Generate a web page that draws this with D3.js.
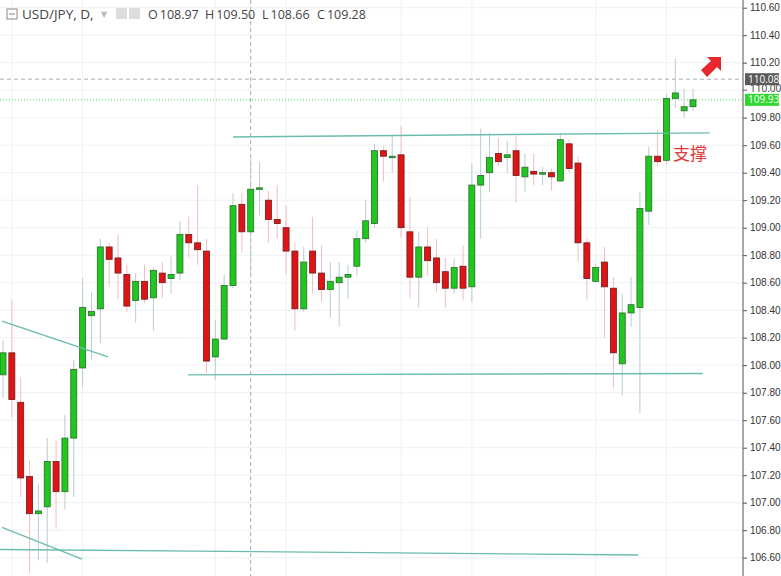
<!DOCTYPE html>
<html>
<head>
<meta charset="utf-8">
<script src="https://cdn.jsdelivr.net/npm/d3@7"></script>
<style>
body { margin: 0; background: #fff; }
svg { display: block; font-family: "Open Sans", "DejaVu Sans", sans-serif; }
</style>
</head>
<body>
<div id="chart"></div>
<script>
// daily candles, open / high / low / close
const opens  = [107.93,108.09,107.73,107.19,106.92,106.97,107.30,107.08,107.47,107.98,108.36,108.41,108.86,108.78,108.66,108.47,108.61,108.49,108.67,108.63,108.67,108.95,108.89,108.83,108.06,108.19,108.58,109.17,108.97,109.28,109.20,109.06,109.00,108.83,108.41,108.83,108.67,108.55,108.60,108.64,108.72,108.92,109.03,109.56,109.51,109.53,108.97,108.64,108.86,108.78,108.68,108.56,108.72,108.57,109.31,109.40,109.54,109.51,109.56,109.37,109.41,109.40,109.40,109.34,109.61,109.47,108.89,108.61,108.75,108.56,108.01,108.38,108.42,109.12,109.52,109.49,109.94,109.85,109.88];
const highs  = [108.18,108.47,107.91,107.31,107.14,107.47,107.45,107.64,108.04,108.63,108.53,108.92,108.89,108.95,108.73,108.67,108.73,108.71,108.75,108.79,109.05,109.08,109.31,108.92,108.33,108.66,109.25,109.25,109.50,109.48,109.27,109.31,109.16,108.89,108.86,109.08,108.87,108.75,108.75,108.73,108.98,109.20,109.61,109.59,109.67,109.74,109.22,108.97,109.00,108.92,108.78,108.78,108.87,109.47,109.72,109.69,109.65,109.63,109.67,109.54,109.54,109.44,109.43,109.69,109.64,109.52,108.92,108.74,108.86,108.64,108.52,108.64,109.26,109.59,109.71,109.97,110.23,110.01,110.01];
const lows   = [107.76,107.62,107.04,106.49,106.58,106.56,106.81,106.95,107.04,107.84,108.04,108.16,108.57,108.48,108.39,108.31,108.45,108.25,108.49,108.52,108.62,108.78,108.73,107.94,107.89,108.18,108.56,108.82,108.66,109.09,108.89,108.92,108.66,108.25,108.39,108.52,108.46,108.35,108.28,108.48,108.65,108.89,109.00,109.34,109.40,108.93,108.49,108.42,108.65,108.53,108.42,108.52,108.47,108.46,108.92,109.26,109.45,109.40,109.18,109.26,109.31,109.31,109.27,109.33,109.40,108.75,108.47,108.60,108.20,107.83,107.78,108.28,107.65,109.02,109.45,109.46,109.87,109.80,109.85];
const closes = [108.09,107.75,107.18,106.92,106.94,107.30,107.08,107.47,107.97,108.42,108.39,108.86,108.77,108.67,108.43,108.61,108.48,108.69,108.60,108.66,108.95,108.89,108.84,108.03,108.19,108.58,109.16,108.97,109.28,109.29,109.06,109.03,108.83,108.41,108.75,108.67,108.55,108.61,108.64,108.66,108.92,109.05,109.56,109.52,109.52,109.00,108.64,108.86,108.76,108.60,108.56,108.71,108.56,109.31,109.38,109.51,109.48,109.53,109.38,109.44,109.39,109.40,109.37,109.64,109.43,108.89,108.63,108.71,108.57,108.09,108.38,108.44,109.14,109.52,109.48,109.94,109.98,109.88,109.93];

const yTicks = [106.6,106.8,107.0,107.2,107.4,107.6,107.8,108.0,108.2,108.4,108.6,108.8,109.0,109.2,109.4,109.6,109.8,110.0,110.2,110.4,110.6];
const gridIdx = [1, 9, 24, 32, 45, 53, 67, 75];
const crossIdx = 28;
// trend lines drawn on the chart: [idx0, price0, idx1, price1]
const trendLines = [
  [26.0, 109.66, 79.9, 109.69],
  [20.9, 107.93, 79.1, 107.94],
  [-0.34, 106.66, 71.8, 106.62],
  [-0.11, 108.32, 11.87, 108.06],
  [-0.11, 106.82, 8.93, 106.59]
];
const lastPrice = 109.93;
const markPrice = 110.08;

const W = 781, H = 576, axisX = 743;
const svg = d3.select("#chart").append("svg").attr("width", W).attr("height", H);

const x = d3.scaleLinear().domain([0, opens.length - 1]).range([3, 693]);
const y = d3.scaleLinear().domain([106.6, 110.6]).range([557.7, 7.7]);

// grid
svg.append("g").selectAll("line").data(yTicks).enter().append("line")
  .attr("x1", 0).attr("x2", axisX).attr("y1", d => y(d)).attr("y2", d => y(d))
  .attr("stroke", "#eef0f2").attr("stroke-width", 1);
svg.append("g").selectAll("line").data(gridIdx).enter().append("line")
  .attr("x1", d => x(d)).attr("x2", d => x(d)).attr("y1", 0).attr("y2", H)
  .attr("stroke", "#eef0f2").attr("stroke-width", 1);

// crosshair
svg.append("line").attr("x1", x(crossIdx)).attr("x2", x(crossIdx)).attr("y1", 0).attr("y2", H)
  .attr("stroke", "#aaa").attr("stroke-dasharray", "4,3");
svg.append("line").attr("x1", 0).attr("x2", axisX).attr("y1", y(markPrice)).attr("y2", y(markPrice))
  .attr("stroke", "#aaa").attr("stroke-dasharray", "4,3");
svg.append("line").attr("x1", 0).attr("x2", axisX).attr("y1", y(lastPrice)).attr("y2", y(lastPrice))
  .attr("stroke", "#3ee83e").attr("stroke-dasharray", "1,2");

// candles
const idx = d3.range(opens.length);
const bw = 6;
const g = svg.append("g");
g.selectAll(".wick").data(idx).enter().append("line")
  .attr("x1", i => x(i)).attr("x2", i => x(i))
  .attr("y1", i => y(highs[i])).attr("y2", i => y(lows[i]))
  .attr("stroke", i => closes[i] >= opens[i] ? "#b7ccd3" : "#f2bcc2").attr("stroke-width", 1);
g.selectAll(".body").data(idx).enter().append("rect")
  .attr("x", i => x(i) - bw / 2)
  .attr("y", i => y(Math.max(opens[i], closes[i])))
  .attr("width", bw)
  .attr("height", i => Math.max(1.5, Math.abs(y(opens[i]) - y(closes[i]))))
  .attr("fill", i => closes[i] >= opens[i] ? "#1fc71f" : "#e01414")
  .attr("stroke", i => closes[i] >= opens[i] ? "#2a6a2a" : "#6a1a1a")
  .attr("stroke-width", 0.8);

// trend lines
svg.append("g").selectAll("line").data(trendLines).enter().append("line")
  .attr("x1", d => x(d[0])).attr("y1", d => y(d[1]))
  .attr("x2", d => x(d[2])).attr("y2", d => y(d[3]))
  .attr("stroke", "#6bbcae").attr("stroke-width", 1.4);

// right axis
svg.append("rect").attr("x", axisX).attr("y", 0).attr("width", W - axisX).attr("height", H).attr("fill", "#fff");
svg.append("line").attr("x1", axisX).attr("x2", axisX).attr("y1", 0).attr("y2", H).attr("stroke", "#555");
const ax = svg.append("g").attr("transform", `translate(${axisX},0)`)
  .call(d3.axisRight(y).tickValues(yTicks.filter(d => d !== 110.0)).tickFormat(d3.format(".2f")).tickSize(4));
ax.select(".domain").remove();
ax.selectAll("line").attr("stroke", "#555");
ax.selectAll("text").attr("font-size", 10).attr("fill", "#333").attr("x", 7);

// 110.00 tick is half hidden behind the tags
svg.append("line").attr("x1", axisX).attr("x2", axisX + 4).attr("y1", y(110)).attr("y2", y(110)).attr("stroke", "#555");
svg.append("text").attr("x", axisX + 7).attr("y", y(110) + 2).attr("font-size", 10).attr("fill", "#333").text("110.00");

function priceTag(p, bg) {
  svg.append("rect").attr("x", axisX + 2).attr("y", y(p) - 6).attr("width", W - axisX - 4).attr("height", 12).attr("fill", bg);
  svg.append("text").attr("x", axisX + 5).attr("y", y(p) + 3.5).attr("font-size", 10).attr("fill", "#fff")
    .text(p.toFixed(2));
}
priceTag(markPrice, "#5a5a5a");
priceTag(lastPrice, "#2ed82e");

// header
svg.append("rect").attr("x", 7).attr("y", 9).attr("width", 10).attr("height", 10).attr("fill", "none").attr("stroke", "#888");
svg.append("line").attr("x1", 9).attr("x2", 15).attr("y1", 14).attr("y2", 14).attr("stroke", "#888");
svg.append("text").attr("x", 22).attr("y", 19).attr("font-size", 13.5).attr("fill", "#444").text("USD/JPY, D,");
svg.append("text").attr("x", 101).attr("y", 17).attr("font-size", 8).attr("fill", "#bbb").text("▼");
svg.append("rect").attr("x", 116).attr("y", 8).attr("width", 11).attr("height", 11).attr("fill", "#ddd");
svg.append("rect").attr("x", 129).attr("y", 8).attr("width", 11).attr("height", 11).attr("fill", "#ddd");
const hdr = [["O", "108.97", 148], ["H", "109.50", 205], ["L", "108.66", 262], ["C", "109.28", 317]];
hdr.forEach(h => {
  const t = svg.append("text").attr("x", h[2]).attr("y", 19).attr("font-size", 12.5).attr("fill", "#444");
  t.append("tspan").text(h[0]);
  t.append("tspan").attr("dx", 2).text(h[1]);
});

// annotation
svg.append("text").attr("x", 673).attr("y", 160).attr("font-size", 17).attr("fill", "#e03a3a")
  .attr("font-family", "Noto Sans CJK SC").text("支撑");
svg.append("path").attr("d", "M701,70 L711,61 L707,57 L721,57 L721,71 L717,67 L707,77 Z")
  .attr("fill", "#e8262e");
</script>
</body>
</html>
